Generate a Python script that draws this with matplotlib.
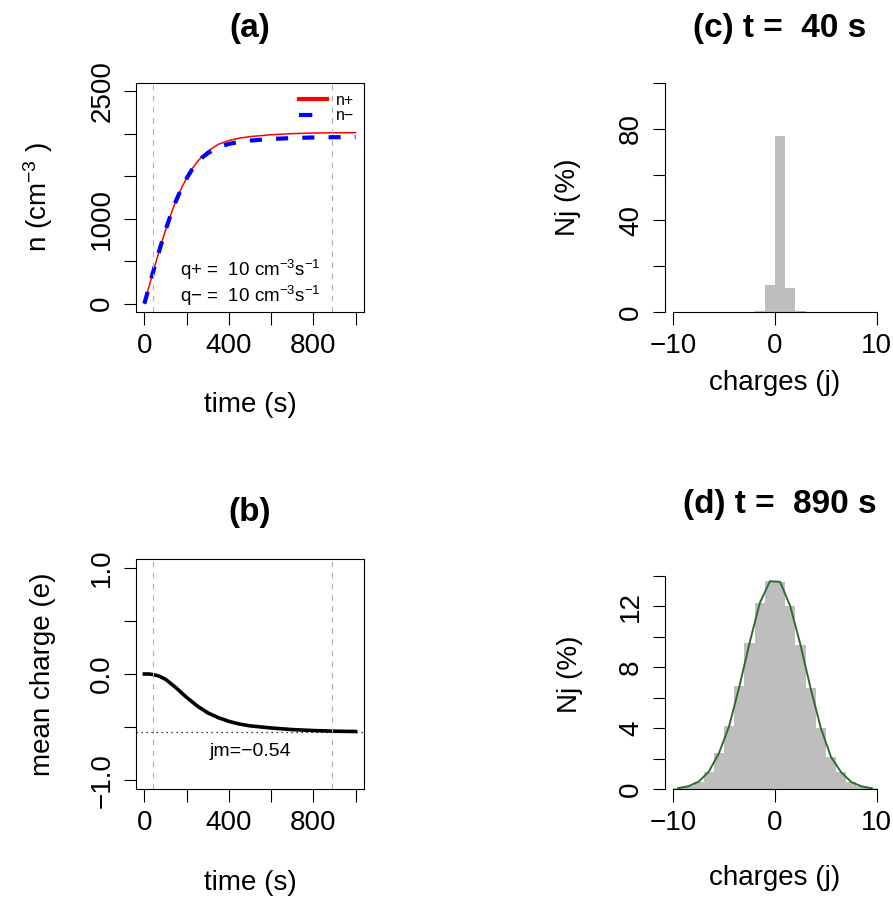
import numpy as np
import matplotlib
matplotlib.use("Agg")
import matplotlib.pyplot as plt
from matplotlib.lines import Line2D

plt.rcParams['font.family'] = ['Liberation Sans', 'DejaVu Sans']
plt.rcParams['mathtext.fontset'] = 'custom'
plt.rcParams['mathtext.rm'] = 'Liberation Sans'
plt.rcParams['mathtext.it'] = 'Liberation Sans:italic'
plt.rcParams['axes.linewidth'] = 0.8

# (a) ion concentrations
time_n = [0, 25, 50, 75, 100, 125, 150, 175, 200, 225, 250, 275, 300, 350, 400, 450,
          500, 600, 700, 800, 900, 1000]
n_plus = [0, 229, 450, 664, 865, 1050, 1215, 1358, 1480, 1585, 1670, 1740, 1797, 1877,
          1922, 1950, 1968, 1990, 2003, 2010, 2013, 2014]
n_minus = [0, 229, 450, 664, 865, 1050, 1214, 1356, 1476, 1578, 1660, 1725, 1772, 1844,
           1882, 1906, 1921, 1940, 1951, 1958, 1961, 1962]

# (b) mean charge
time_q = [0, 20, 40, 70, 100, 150, 200, 250, 300, 350, 400, 450, 500, 600, 700, 800, 900, 1000]
mean_charge = [0.0, 0.0, -0.005, -0.02, -0.05, -0.13, -0.22, -0.30, -0.365, -0.41, -0.445,
               -0.47, -0.487, -0.507, -0.522, -0.531, -0.537, -0.54]
jm = -0.54
t_marks = [40, 890]

# (c), (d) charge distributions, bins [j, j+1]
charges = list(range(-10, 10))
nj_40 = [0, 0, 0, 0, 0, 0, 0, 0, 0.5, 11.6, 77.0, 10.6, 0.3, 0, 0, 0, 0, 0, 0, 0]
nj_890 = [0.06, 0.18, 0.48, 1.14, 2.35, 4.14, 6.73, 9.58, 12.2, 13.64,
          13.6, 12.0, 9.47, 6.6, 4.0, 2.1, 1.1, 0.45, 0.17, 0.05]

BAR = '#BEBEBE'
TICK = dict(direction='out', length=9, width=0.8, labelsize=20, pad=6)

fig = plt.figure(figsize=(8.93, 9.0), dpi=100)
W, H = 893.0, 900.0

def place(x0, y0, x1, y1):
    return fig.add_axes([x0 / W, 1 - y1 / H, (x1 - x0) / W, (y1 - y0) / H])

def yrot(ax):
    ax.tick_params(axis='y', labelrotation=90)
    for lb in ax.get_yticklabels():
        lb.set_va('center')

ax_a = place(136, 83, 364, 312)
ax_b = place(136, 559, 364, 789)
ax_c = place(665, 83, 885, 312)
ax_d = place(665, 559, 885, 789)

# --- (a)
ax_a.plot(time_n, n_plus, color='red', lw=1.1)
ax_a.plot(time_n, n_minus, color='blue', lw=3, linestyle=(0, (2.9, 3.4)))
for t in t_marks:
    ax_a.axvline(t, color='#B0B0B0', lw=0.8, linestyle=(0, (5, 5)))
ax_a.set_xlim(-40, 1040)
ax_a.set_ylim(-100, 2600)
ax_a.set_xticks(range(0, 1001, 200))
ax_a.set_xticklabels(['0', '', '400', '', '800', ''])
ax_a.set_yticks(range(0, 2501, 500))
ax_a.set_yticklabels(['0', '', '1000', '', '', '2500'])
ax_a.text(500, 400, 'q+ =  10 cm$^{\u22123}$s$^{\u22121}$', fontsize=13.5, ha='center', va='center')
ax_a.text(500, 95, 'q\u2212 =  10 cm$^{\u22123}$s$^{\u22121}$', fontsize=13.5, ha='center', va='center')
handles = [Line2D([], [], color='red', lw=3),
           Line2D([], [], color='blue', lw=3, linestyle=(0, (3.2, 4)))]
ax_a.legend(handles, ['n+', 'n\u2212'], loc='upper right', frameon=False, fontsize=11.5,
            handlelength=1.75, labelspacing=0.05, borderaxespad=0.2, handletextpad=0.6)
ax_a.set_xlabel('time (s)', fontsize=20)
ax_a.set_ylabel('n (cm$^{\u22123}$ )', fontsize=20)

# --- (b)
ax_b.plot(time_q, mean_charge, color='black', lw=2.6)
ax_b.axhline(jm, color='black', lw=0.9, linestyle=(0, (1, 3)))
for t in t_marks:
    ax_b.axvline(t, color='#B0B0B0', lw=0.8, linestyle=(0, (5, 5)))
ax_b.text(500, -0.73, 'jm=\u22120.54', fontsize=14, ha='center', va='center')
ax_b.set_xlim(-40, 1040)
ax_b.set_ylim(-1.08, 1.08)
ax_b.set_xticks(range(0, 1001, 200))
ax_b.set_xticklabels(['0', '', '400', '', '800', ''])
ax_b.set_yticks([-1, -0.5, 0, 0.5, 1])
ax_b.set_yticklabels(['\u22121.0', '', '0.0', '', '1.0'])
ax_b.set_xlabel('time (s)', fontsize=20)
ax_b.set_ylabel('mean charge (e)', fontsize=20)

# --- (c)
ax_c.bar(charges, nj_40, width=1, align='edge', color=BAR, edgecolor='none')
ax_c.set_xlim(-10.8, 10.8)
ax_c.set_ylim(0, 100)
ax_c.set_yticks(range(0, 101, 20))
ax_c.set_yticklabels(['0', '', '40', '', '80', ''])
ax_c.set_xlabel('charges (j)', fontsize=20)
ax_c.set_ylabel('Nj (%)', fontsize=20)
ax_c.spines['left'].set_bounds(0, 100)

# --- (d)
mids = [j + 0.5 for j in charges]
ax_d.bar(charges, nj_890, width=1, align='edge', color=BAR, edgecolor='none')
ax_d.plot(mids, nj_890, color='#2F6B2F', lw=1.4)
ax_d.set_xlim(-10.8, 10.8)
ax_d.set_ylim(0, 15.1)
ax_d.set_yticks(range(0, 15, 2))
ax_d.set_yticklabels(['0', '', '4', '', '8', '', '12', ''])
ax_d.set_xlabel('charges (j)', fontsize=20)
ax_d.set_ylabel('Nj (%)', fontsize=20)
ax_d.spines['left'].set_bounds(0, 14)

for ax in (ax_c, ax_d):
    ax.set_xticks([-10, 0, 10])
    ax.set_xticklabels(['\u221210', '0', '10'])
    ax.spines['top'].set_visible(False)
    ax.spines['right'].set_visible(False)
    ax.spines['bottom'].set_bounds(-10, 10)

for ax in (ax_a, ax_b, ax_c, ax_d):
    ax.tick_params(**TICK)
    yrot(ax)

# label placement
ax_a.xaxis.set_label_coords(0.5, -0.406)
ax_a.yaxis.set_label_coords(-0.43, 0.5)
ax_b.xaxis.set_label_coords(0.5, -0.41)
ax_b.yaxis.set_label_coords(-0.41, 0.5)
ax_c.xaxis.set_label_coords(0.5, -0.31)
ax_c.yaxis.set_label_coords(-0.44, 0.5)
ax_d.xaxis.set_label_coords(0.5, -0.387)
ax_d.yaxis.set_label_coords(-0.43, 0.5)
for ax in (ax_a, ax_b, ax_c, ax_d):
    ax.xaxis.label.set_va('center')
    ax.yaxis.label.set_va('center')

# panel titles
fig.text(250 / W, 1 - 28 / H, '(a)', fontsize=24, fontweight='bold', ha='center', va='center')
fig.text(780 / W, 1 - 28 / H, '(c) t =  40 s', fontsize=24, fontweight='bold', ha='center', va='center')
fig.text(250 / W, 1 - 512 / H, '(b)', fontsize=24, fontweight='bold', ha='center', va='center')
fig.text(780 / W, 1 - 505 / H, '(d) t =  890 s', fontsize=24, fontweight='bold', ha='center', va='center')

fig.savefig('out.png', dpi=100)
